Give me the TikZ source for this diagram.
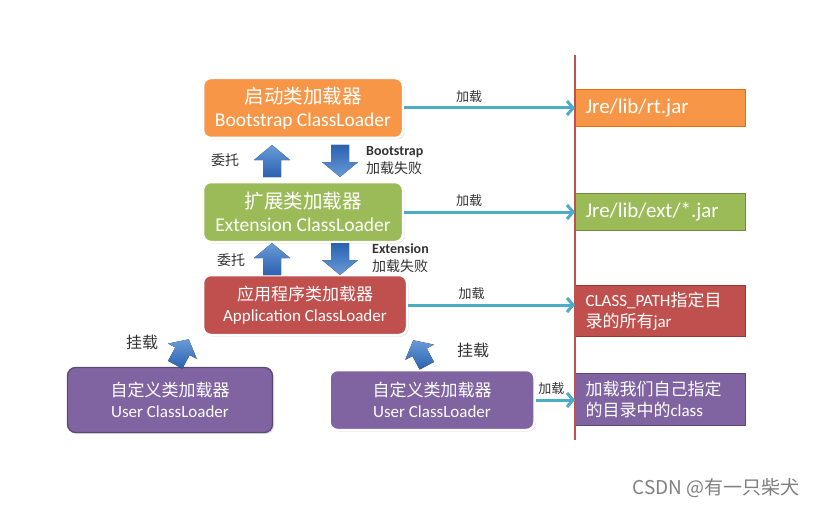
\documentclass[tikz,border=0pt]{standalone}
\usepackage{fontspec}
\setmainfont{Carlito}
\newfontfamily\cjk{Noto Sans CJK SC}
\usetikzlibrary{arrows.meta, shadows}
\definecolor{bootfill}{HTML}{F79646}
\definecolor{bootline}{HTML}{E46C0A}
\definecolor{extfill}{HTML}{9BBB59}
\definecolor{extline}{HTML}{71893F}
\definecolor{appfill}{HTML}{C0504D}
\definecolor{appline}{HTML}{943634}
\definecolor{userfill}{HTML}{8064A2}
\definecolor{userline}{HTML}{5C4776}
\definecolor{arrowtop}{HTML}{6A9BD8}
\definecolor{arrowbot}{HTML}{2A62B0}
\definecolor{loadline}{HTML}{4BACC6}
\definecolor{notegray}{HTML}{333333}
\newcommand\bigfont{\fontsize{19.5}{23}\selectfont}
\newcommand\midfont{\fontsize{17}{21}\selectfont}
\tikzstyle{loader}=[draw=white, line width=2.5pt, rounded corners=8pt, text=white, align=center, minimum width=200pt, minimum height=60pt, inner sep=0pt, drop shadow={shadow xshift=1.5pt, shadow yshift=-1.5pt, opacity=0.25}]
\tikzstyle{jarbox}=[draw, line width=1pt, text=white, align=left, text width=150pt, inner xsep=10pt, minimum height=37pt, anchor=west]
\tikzstyle{load}=[draw=loadline, line width=3pt, -{Straight Barb[length=6pt, width=14pt]}]
\tikzstyle{note}=[text=notegray, inner sep=1pt, font=\fontsize{14}{18}\selectfont]
\tikzstyle{arrowshade}=[top color=arrowtop, bottom color=arrowbot]
\tikzstyle{flipshade}=[arrowshade/.style={top color=arrowbot, bottom color=arrowtop}]
\tikzset{bigarrow/.pic={
  \fill[arrowshade] (-9,16) -- (-9,-1) -- (-18,-1) -- (0,-16) -- (18,-1) -- (9,-1) -- (9,16) -- cycle;
}}

\begin{document}
\begin{tikzpicture}[x=1pt, y=-1pt]
  \fill[white] (0,0) rectangle (819,508);
  % loaders
  \node[loader, fill=bootfill, font=\bigfont] (boot) at (303,108) {{\cjk 启动类加载器}\\Bootstrap ClassLoader};
  \node[loader, fill=extfill, font=\bigfont] (ext) at (303,212) {{\cjk 扩展类加载器}\\Extension ClassLoader};
  \node[loader, fill=appfill, font=\midfont, minimum width=204pt] (app) at (305,305) {{\cjk 应用程序类加载器}\\Application ClassLoader};
  \node[loader, fill=userfill, draw=userline, line width=1.2pt, font=\midfont, minimum width=205pt, minimum height=65pt] (user1) at (170,400) {{\cjk 自定义类加载器}\\User ClassLoader};
  \node[loader, fill=userfill, font=\midfont, minimum width=205pt] (user2) at (432,400) {{\cjk 自定义类加载器}\\User ClassLoader};
  % jars
  \node[jarbox, fill=bootfill, draw=bootline, font=\fontsize{21}{25}\selectfont] (rt) at (575,108) {Jre/lib/rt.jar};
  \node[jarbox, fill=extfill, draw=extline, font=\fontsize{21}{25}\selectfont] (extjar) at (575,212) {Jre/lib/ext/*.jar};
  \node[jarbox, fill=appfill, draw=appline, minimum height=51pt, font=\fontsize{17}{21}\selectfont] (cp) at (575,311) {CLASS\_PATH{\cjk 指定目}\\{\cjk 录的所有}jar};
  \node[jarbox, fill=userfill, draw=userline, minimum height=52pt, font=\fontsize{17}{21}\selectfont] (own) at (575,399) {{\cjk 加载我们自己指定}\\{\cjk 的目录中的}class};
  \draw[appfill, line width=2pt] (575,55) -- (575,440);
  % delegation arrows
  \pic (up1) at (272,161) {bigarrow};
  \pic[rotate=180, flipshade] (down1) at (340,161) {bigarrow};
  \pic (up2) at (272,259) {bigarrow};
  \pic[rotate=180, flipshade] (down2) at (340,259) {bigarrow};
  \pic[rotate=-28, scale=0.9] (hang1) at (182,352) {bigarrow};
  \pic[rotate=28, scale=0.9] (hang2) at (420,353) {bigarrow};
  \node[note, font=\cjk\fontsize{14}{18}\selectfont] (ask1) at (225,160) {委托};
  \node[note, font=\cjk\fontsize{14}{18}\selectfont] (ask2) at (231,260) {委托};
  \node[note, anchor=west, align=left] (fail1) at (365,161) {\textbf{Bootstrap}\\{\cjk 加载失败}};
  \node[note, anchor=west, align=left] (fail2) at (371,258) {\textbf{Extension}\\{\cjk 加载失败}};
  \node[note, font=\cjk\fontsize{16}{18}\selectfont] (mount1) at (142,342) {挂载};
  \node[note, font=\cjk\fontsize{16}{18}\selectfont] (mount2) at (473,350) {挂载};
  % load arrows
  \draw[load] (boot.east) -- node[note, above=3pt, pos=0.38, font=\cjk\fontsize{13}{16}\selectfont] {加载} (rt.west);
  \draw[load] (ext.east) -- node[note, above=3pt, pos=0.38, font=\cjk\fontsize{13}{16}\selectfont] {加载} (extjar.west);
  \draw[load] (app.east) -- node[note, above=3pt, pos=0.38, font=\cjk\fontsize{13}{16}\selectfont] {加载} (app.east -| cp.west);
  \draw[load] (user2.east) -- node[note, above=3pt, pos=0.4, font=\cjk\fontsize{13}{16}\selectfont] {加载} (user2.east -| own.west);
  \node[text=gray, font=\cjk\fontsize{19}{22}\selectfont] (mark) at (716,488) {CSDN @有一只柴犬};
\end{tikzpicture}
\end{document}
